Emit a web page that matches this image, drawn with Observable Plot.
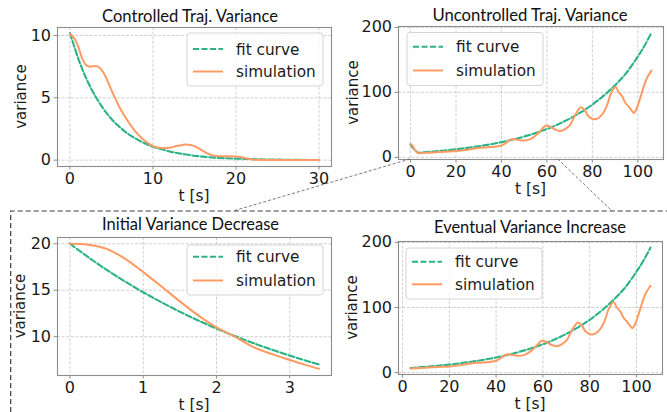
<!DOCTYPE html>
<html><head><meta charset="utf-8">
<script src="https://cdn.jsdelivr.net/npm/d3@7"></script>
<script src="https://cdn.jsdelivr.net/npm/@observablehq/plot@0.6"></script>
<style>
body{margin:0;background:#fff;}
#fig{position:relative;width:667px;height:412px;overflow:hidden;background:#fff;}
</style></head><body><div id="fig"></div>
<script>
// ---- data ----
const ctrlFitT = [0,1,2,3,4,5,6,7,8,9,10,12,14,16,18,20,22,25,30];
const ctrlFitV = [10.2,8.15,6.5,5.2,4.15,3.3,2.65,2.1,1.7,1.35,1.08,0.7,0.45,0.28,0.18,0.12,0.08,0.04,0.01];
const ctrlSimT = [0,0.5,1,1.5,2,2.5,3,3.5,4,4.5,5,5.5,6,7,8,9,10,11,12,13,14,15,16,17,18,19,20,21,22,23,25,30];
const ctrlSimV = [10.13,9.8,9.1,8.1,7.6,7.5,7.55,7.45,7.05,6.4,5.6,4.9,4.2,3.1,2.2,1.55,1.12,0.97,1.0,1.15,1.25,1.12,0.75,0.42,0.32,0.32,0.3,0.18,0.06,0.02,0.01,0.01];

const initT    = [0,0.25,0.5,0.75,1,1.25,1.5,1.75,2,2.25,2.5,2.75,3,3.2,3.4];
const initFitV = [20,18.55,17.2,15.95,14.78,13.7,12.69,11.75,10.88,10.07,9.32,8.62,7.97,7.48,7.02];
const initSimV = [20,19.9,19.45,18.4,16.95,15.4,13.8,12.3,11.0,10.0,8.9,8.15,7.5,7.0,6.55];

const eventFitT = [3.4,5,10,15,20,25,30,35,40,45,50,55,60,65,70,75,80,85,90,95,100,103,106];
const eventFitV = [7.0,7.5,9.0,10.6,12.4,14.6,17.1,20.0,23.4,27.4,32.0,37.4,43.6,51.0,59.5,69.5,81.2,95,111,130,155,172,192];
const eventSimT = [3.4,6,10,15,20,24,27,30,32.5,35,37,39.5,41,42.5,44.5,46.5,49.5,51.5,54,56.7,59.6,61.7,63.8,66,68,70.2,72.4,75,76.7,78.1,80.2,82.4,84.5,86.4,88.1,90.2,91.6,93.1,94.5,95.9,97.3,98.3,99.7,101.6,103.8,106];
const eventSimV = [6.55,6.9,7.6,8.8,9.6,11.2,12.8,14.3,15.2,15.8,16.3,17.8,20,23.5,28,27.5,26,26.5,30.8,39,49,46.5,42.5,40.5,43.5,49.8,65,77,72,64,59,60,66.7,79.5,97.5,108.5,100,94,84,78.5,72,68.3,77,97.5,120.6,133.4];

const titles = ["Controlled Traj. Variance","Uncontrolled Traj. Variance","Initial Variance Decrease","Eventual Variance Increase"];
const legendLabels = ["fit curve","simulation"];
const xLabel = "t [s]", yLabel = "variance";
const ticksCtrlX = [0,10,20,30], ticksCtrlY = [0,5,10];
const ticksLongX = [0,20,40,60,80,100], ticksLongY = [0,100,200];
const ticksInitX = [0,1,2,3], ticksInitY = [10,15,20];

const GREEN = "#2bb386", ORANGE = "#ff9a63";
const rows = (T, V) => T.map((t, i) => ({t, v: V[i]}));
const ctrlFit = rows(ctrlFitT, ctrlFitV), ctrlSim = rows(ctrlSimT, ctrlSimV);
const initFit = rows(initT, initFitV), initSim = rows(initT, initSimV);
const eventFit = rows(eventFitT, eventFitV), eventSim = rows(eventSimT, eventSimV);
const uncFit = initFit.concat(eventFit.slice(1)), uncSim = initSim.concat(eventSim.slice(1));

const fig = document.getElementById("fig");
const FONT = "'DejaVu Sans', sans-serif";
function panel(c) {
  const p = Plot.plot({
    width: c.W, height: c.H,
    marginLeft: c.fx0 - c.left, marginRight: c.left + c.W - c.fx1,
    marginTop: c.fy0 - c.top, marginBottom: c.top + c.H - c.fy1,
    x: {domain: c.xd}, y: {domain: c.yd},
    style: {fontFamily: FONT, fontSize: "16px", color: "#1a1a1a", background: "transparent", overflow: "visible"},
    marks: [
      Plot.gridX({ticks: c.xt, stroke: "#c4c4c4", strokeOpacity: 1, strokeWidth: 0.8, strokeDasharray: "3,1.6"}),
      Plot.gridY({ticks: c.yt, stroke: "#c4c4c4", strokeOpacity: 1, strokeWidth: 0.8, strokeDasharray: "3,1.6"}),
      Plot.line(c.fit, {x: "t", y: "v", stroke: GREEN, strokeWidth: 2.1, strokeDasharray: "6,2.5", curve: "catmull-rom"}),
      Plot.line(c.sim, {x: "t", y: "v", stroke: ORANGE, strokeWidth: 2, curve: "catmull-rom"}),
      Plot.frame({stroke: "#8c8c8c", strokeWidth: 1.1}),
      Plot.axisX({ticks: c.xt, tickFormat: d => String(d), tickSize: 3.5, tickPadding: 3, stroke: "#8c8c8c", fill: "#1a1a1a", label: null, fontSize: 16, fontFamily: FONT}),
      Plot.axisY({ticks: c.yt, tickFormat: d => String(d), tickSize: 3.5, tickPadding: 3, stroke: "#8c8c8c", fill: "#1a1a1a", label: null, fontSize: 16, fontFamily: FONT})
    ]
  });
  p.style.position = "absolute"; p.style.left = c.left + "px"; p.style.top = c.top + "px";
  fig.appendChild(p);
  return p;
}
const P = [
  panel({left: 0, top: 0, W: 340, H: 200, fx0: 57, fx1: 331, fy0: 27, fy1: 166, xd: [-1.5, 31.5], yd: [-0.51, 10.64], xt: ticksCtrlX, yt: ticksCtrlY, fit: ctrlFit, sim: ctrlSim}),
  panel({left: 340, top: 0, W: 327, H: 200, fx0: 398, fx1: 663, fy0: 26, fy1: 159, xd: [-5.3, 111.3], yd: [-3.3, 201.3], xt: ticksLongX, yt: ticksLongY, fit: uncFit, sim: uncSim}),
  panel({left: 0, top: 205, W: 340, H: 207, fx0: 57, fx1: 331, fy0: 237, fy1: 375, xd: [-0.17, 3.57], yd: [5.83, 20.67], xt: ticksInitX, yt: ticksInitY, fit: initFit, sim: initSim}),
  panel({left: 340, top: 205, W: 327, H: 207, fx0: 398, fx1: 662, fy0: 241, fy1: 374, xd: [-1.73, 111.13], yd: [-2.8, 201.3], xt: ticksLongX, yt: ticksLongY, fit: eventFit, sim: eventSim})
];

// ---- overlay: titles, labels, legends, zoom box, connectors ----
const svg = d3.select(fig).append("svg").attr("width", 667).attr("height", 412)
  .style("position", "absolute").style("left", 0).style("top", 0).style("pointer-events", "none");
const titleSpec = [[190, 21.5, 176], [530, 20.8, 195], [190.5, 230, 177], [530, 233, 192]];
titleSpec.forEach(([cx, by, w], i) => {
  svg.append("text").attr("x", cx - w / 2).attr("y", by).attr("textLength", w).attr("lengthAdjust", "spacingAndGlyphs")
    .style("font-family", "Lato, 'Open Sans', sans-serif").style("font-size", "16.5px").attr("fill", "#111").text(titles[i]);
});
const frames = [[57, 331, 27, 166], [398, 663, 26, 159], [57, 331, 237, 375], [398, 662, 241, 374]];
const ylabX = [26, 358, 25, 357];
frames.forEach(([x0, x1, y0, y1], i) => {
  svg.append("text").attr("x", (x0 + x1) / 2).attr("y", y1 + 34.5).attr("text-anchor", "middle")
    .style("font-family", FONT).style("font-size", "15.5px").attr("fill", "#1a1a1a").text(xLabel);
  const cy = (y0 + y1) / 2;
  svg.append("text").attr("transform", `translate(${ylabX[i]},${cy}) rotate(-90)`).attr("text-anchor", "middle")
    .style("font-family", FONT).style("font-size", "15px").attr("fill", "#1a1a1a").text(yLabel);
});
const legends = [[187, 33, 136, 53, 49, 71.5, 193, 236], [407, 32.5, 136, 53, 46.8, 70.5, 413, 456], [187, 245, 136, 50, 256.7, 280.5, 193, 236], [406, 248, 136, 51, 261.7, 284.3, 412, 455]];
legends.forEach(([x, y, w, h, r1, r2, lx, tx]) => {
  svg.append("rect").attr("x", x).attr("y", y).attr("width", w).attr("height", h).attr("rx", 3)
    .attr("fill", "white").attr("fill-opacity", 0.8).attr("stroke", "#d4d4d4").attr("stroke-width", 1);
  svg.append("line").attr("x1", lx).attr("x2", lx + 30).attr("y1", r1).attr("y2", r1)
    .attr("stroke", GREEN).attr("stroke-width", 2.1).attr("stroke-dasharray", "6,2.5");
  svg.append("line").attr("x1", lx).attr("x2", lx + 30).attr("y1", r2).attr("y2", r2)
    .attr("stroke", ORANGE).attr("stroke-width", 2);
  [r1, r2].forEach((ry, k) => svg.append("text").attr("x", tx).attr("y", ry + 5.5)
    .style("font-family", FONT).style("font-size", "15.3px").attr("fill", "#1a1a1a").text(legendLabels[k]));
});
// zoom box
svg.append("path").attr("d", "M10.7,412 L10.7,211 L667,211").attr("fill", "none")
  .attr("stroke", "#3a3a3a").attr("stroke-width", 1.2).attr("stroke-dasharray", "5,3");
// connectors from the uncontrolled panel's time axis
const sx = P[1].scale("x");
const yb = 159;
[[0, 233], [65, 612]].forEach(([t, bx]) => {
  svg.append("line").attr("x1", 340 + sx.apply(t)).attr("y1", yb).attr("x2", bx).attr("y2", 211)
    .attr("stroke", "#555").attr("stroke-width", 0.8).attr("stroke-dasharray", "3,2");
});
</script></body></html>
